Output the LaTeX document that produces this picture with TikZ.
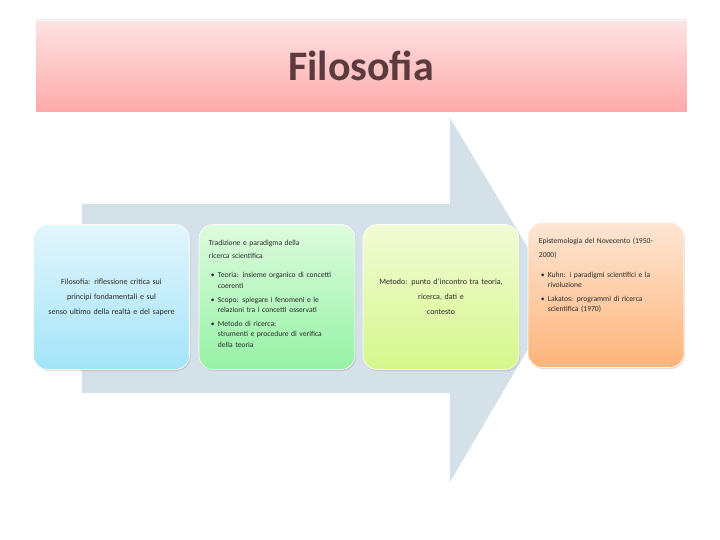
\documentclass[tikz,border=0pt]{standalone}
\usepackage{fontspec}
\setmainfont{Carlito}
\usetikzlibrary{shadows}
\definecolor{arrowfill}{HTML}{D4E1E9}
\definecolor{titletop}{HTML}{FDE3E3}
\definecolor{titlebot}{HTML}{FFA9A9}
\definecolor{titletext}{HTML}{5C3B3E}
\definecolor{btop}{HTML}{E2F6FD}
\definecolor{bbot}{HTML}{A4E4F8}
\definecolor{gtop}{HTML}{DDFBDD}
\definecolor{gbot}{HTML}{96F2A6}
\definecolor{ytop}{HTML}{F2FBD6}
\definecolor{ybot}{HTML}{D6F78C}
\definecolor{otop}{HTML}{FDE6D4}
\definecolor{obot}{HTML}{FDB47A}
\definecolor{boxtext}{HTML}{2A2A2A}
\newcommand{\bul}[1]{\par\hangindent=9pt\hangafter=1\noindent\hspace*{2pt}\makebox[7pt][l]{•}#1\par}
\tikzset{
  stagebox/.style={rounded corners=14pt, minimum width=156pt, minimum height=145pt,
    draw=white, line width=0.6pt,
    drop shadow={shadow xshift=1pt, shadow yshift=-1.5pt, opacity=0.25, fill=gray}},
  centertxt/.style={font=\fontsize{8}{15}\selectfont, text=boxtext, inner sep=0pt, text width=145pt, align=center},
  listtxt/.style={font=\fontsize{7.6}{10.2}\selectfont, text=boxtext, inner sep=0pt, text width=140pt, align=left, anchor=north west},
}
\begin{document}
\begin{tikzpicture}[x=1pt,y=-1pt]
\useasboundingbox[fill=white] (0,0) rectangle (720,540);
% big arrow
\fill[arrowfill] (82,204) -- (450,204) -- (450,118) -- (558,298) -- (450,482) -- (450,393) -- (82,393) -- cycle;
% title
\node[minimum width=652pt, minimum height=92pt, top color=titletop, bottom color=titlebot,
  draw=white, line width=0.6pt,
  drop shadow={shadow xshift=1pt, shadow yshift=-1.5pt, opacity=0.25, fill=gray},
  font=\fontsize{42}{46}\selectfont\bfseries, text=titletext] (title) at (361,66) {Filosofia};
% boxes
\node[stagebox, top color=btop, bottom color=bbot] (b1) at (111.5,297) {};
\node[stagebox, top color=gtop, bottom color=gbot] (b2) at (277,297) {};
\node[stagebox, top color=ytop, bottom color=ybot] (b3) at (441,297) {};
\node[stagebox, top color=otop, bottom color=obot] (b4) at (606,295) {};
% texts
\node[centertxt] (t1) at (b1.center) {Filosofia: riflessione critica sui\\principi fondamentali e sul\\senso ultimo della realtà e del sapere};
\node[listtxt] (t2) at ([xshift=10pt,yshift=-16pt]b2.north west)
 {\fontsize{7.6}{13}\selectfont Tradizione e paradigma della\\ricerca scientifica\par\vspace{9pt}\fontsize{7.6}{10.2}\selectfont
  \bul{Teoria: insieme organico di concetti\newline coerenti}\vspace{4pt}
  \bul{Scopo: spiegare i fenomeni e le\newline relazioni tra i concetti osservati}\vspace{4pt}
  \bul{Metodo di ricerca:\newline strumenti e procedure di verifica\newline della teoria}};
\node[centertxt] (t3) at (b3.center) {Metodo: punto d'incontro tra teoria,\\ricerca, dati e\\contesto};
\node[listtxt] (t4) at ([xshift=11pt,yshift=-16pt]b4.north west)
 {\fontsize{7.6}{14}\selectfont Epistemologia del Novecento (1950-\\2000)\par\vspace{9pt}\fontsize{7.6}{10.2}\selectfont
  \bul{Kuhn: i paradigmi scientifici e la\newline rivoluzione}\vspace{4pt}
  \bul{Lakatos: programmi di ricerca\newline scientifica (1970)}};
\end{tikzpicture}
\end{document}
